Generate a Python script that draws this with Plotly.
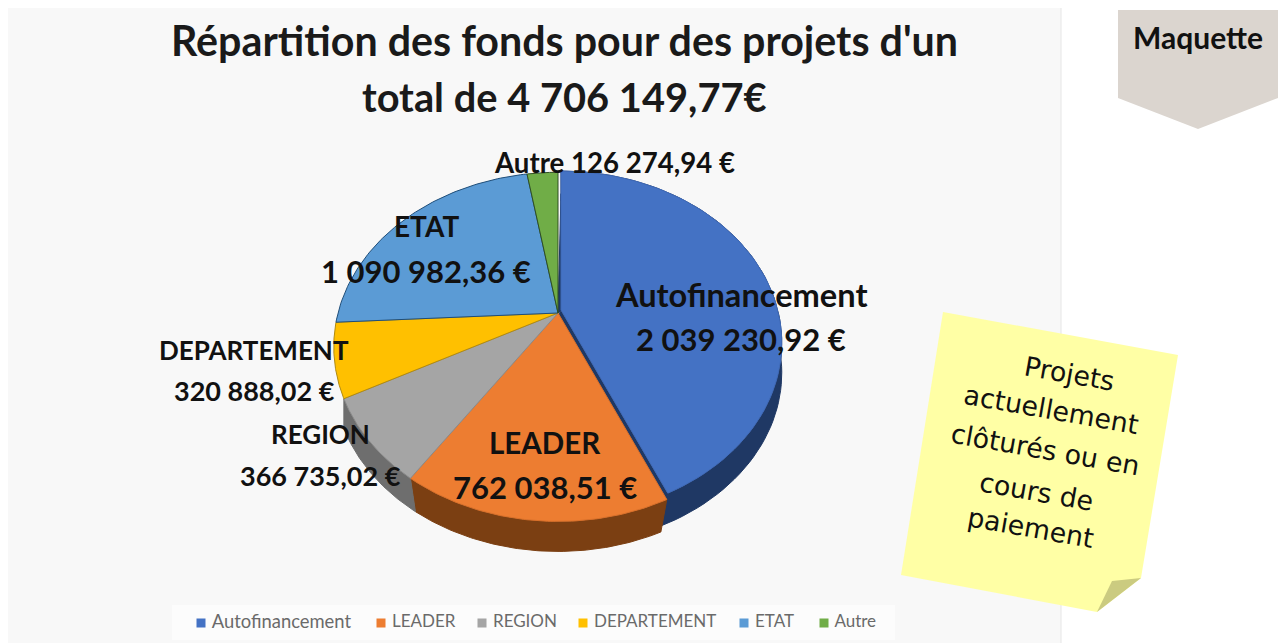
import math
import plotly.graph_objects as go

categories = ["Autofinancement", "LEADER", "REGION", "DEPARTEMENT", "ETAT", "Autre"]
values = [2039230.92, 762038.51, 366735.02, 320888.02, 1090982.36, 126274.94]
top_colors = ["#4472C4", "#ED7D31", "#A5A5A5", "#FFC000", "#5B9BD5", "#70AD47"]
wall_colors = ["#1F3864", "#7B3F12", "#6E6E6E", "#A67C00", "#2E6596", "#43682B"]
edge_colors = ["#3F6AB8", "#D9702A", "#8A8A8A", "#B08A10", "#1F4E79", "#2F4F22"]
# label x, name y, value y, name size, value size
label_pos = [(741, 294, 339, 32.6, 31), (545, 442, 487, 29.5, 31), (320, 434, 475, 26, 27),
             (254, 350, 390, 26, 27), (426, 226, 271, 28, 31)]
title_lines = ["Répartition des fonds pour des projets d'un", "total de 4 706 149,77€"]
title_sizes = [41.2, 39.8]
note_lines = ["Projets", "actuellement", "clôturés ou en", "cours de", "paiement"]
note_pos = [(1069, 373), (1051, 409), (1045, 449), (1036, 491), (1030, 527)]
legend_x = [201, 381, 482, 583, 744, 824]
legend_sizes = [18.4, 17, 17, 17, 17, 17]

CX, CY = 558, 313
F, G, K = 220, 168, 0.194
DEPTH = 30
OFFSET = {0: (3, -3)}
RADIUS = {0: 0.985}


def project(frac, i, depth=0, r=None):
    r = RADIUS.get(i, 1.0) if r is None else r
    th = 2 * math.pi * frac
    X, Y = r * math.sin(th), r * math.cos(th)
    d = 1 + K * Y
    dx, dy = OFFSET.get(i, (0, 0))
    return CX + dx + F * X / d, CY + dy - G * Y / d + depth


def fr(v):
    return f"{v:,.2f}".replace(",", " ").replace(".", ",") + " €"


def poly(pts, fill, line, **kw):
    return go.Scatter(x=[p[0] for p in pts], y=[p[1] for p in pts], mode="lines", fill="toself",
                      fillcolor=fill, line=dict(color=line, width=1), showlegend=False, **kw)


total = sum(values)
bounds = [0]
for v in values:
    bounds.append(bounds[-1] + v / total)

fig = go.Figure()

# radial sides of the offset slice
p0, p1 = project(0, 0, 0, 0), project(bounds[1], 0)
fig.add_trace(poly([p0, p1, (p1[0] - 8, p1[1] + 32), (p0[0] - 3, p0[1] + 6), p0],
                   wall_colors[0], wall_colors[0], hoverinfo="skip"))
fig.add_trace(poly([project(0, 5, 0, 0), project(0, 0, 0, 0.8), p0, project(0, 5, 0, 0)],
                   wall_colors[0], wall_colors[0], hoverinfo="skip"))

# side walls
LOW_SHIFT = {0: (0, 0.006), 1: (0.004, -0.004), 2: (-0.004, 0)}
for i, c in enumerate(categories):
    a, b = bounds[i], bounds[i + 1]
    if (a + b) / 2 > 0.7:
        continue
    n = 80
    sa, sb = LOW_SHIFT[i]
    low_a, low_b = a + sa, b + sb
    arc = [a + (b - a) * j / n for j in range(n + 1)]
    low = [low_a + (low_b - low_a) * j / n for j in range(n + 1)]
    pts = [project(t, i) for t in arc] + [project(t, i, DEPTH) for t in reversed(low)]
    pts.append(pts[0])
    fig.add_trace(poly(pts, wall_colors[i], wall_colors[i], hoverinfo="skip"))

# top faces
for i, c in enumerate(categories):
    a, b = bounds[i], bounds[i + 1]
    n = 80
    arc = [a + (b - a) * j / n for j in range(n + 1)]
    pts = [project(0, i, 0, 0)] + [project(t, i) for t in arc] + [project(0, i, 0, 0)]
    fig.add_trace(poly(pts, top_colors[i], edge_colors[i], name=c, text=fr(values[i]), hoverinfo="name+text"))

# legend row
for i, c in enumerate(categories):
    fig.add_trace(go.Scatter(x=[legend_x[i]], y=[623], mode="markers+text", text=[" " + c],
                             textposition="middle right",
                             marker=dict(symbol="square", size=9, color=top_colors[i]),
                             textfont=dict(size=legend_sizes[i], family="Lato", color="#6A6A6A"),
                             showlegend=False, hoverinfo="skip"))

FONT = "Lato"
shapes = [
    dict(type="rect", x0=8, x1=1061, y0=8, y1=643, fillcolor="#F8F8F8", line=dict(width=0), layer="below"),
    dict(type="line", x0=1061, x1=1061, y0=8, y1=643, line=dict(color="#E6E6E6", width=1), layer="below"),
    dict(type="rect", x0=172, x1=895, y0=605, y1=640, fillcolor="#FCFCFC", line=dict(width=0), layer="below"),
    dict(type="path", path="M1118,10 L1278,10 L1278,98 L1198,129 L1118,98 Z", fillcolor="#DBD5CF", line=dict(width=0), layer="below"),
    dict(type="path", path="M943,312 L1178,355 L1141,578 L1097,612 L901,575 Z", fillcolor="#FFFFA5", line=dict(width=0), layer="above"),
    dict(type="path", path="M1097,612 L1141,578 L1112,581 Z", fillcolor="#CBCB80", line=dict(width=0), layer="above"),
]

ann = []
for line, y, s in zip(title_lines, [40, 96], title_sizes):
    ann.append(dict(x=564, y=y, text=f"<b>{line}</b>", font=dict(size=s, family=FONT, color="#1a1a1a")))
for i, (x, y1, y2, s1, s2) in enumerate(label_pos):
    ann.append(dict(x=x, y=y1, text=f"<b>{categories[i]}</b>", font=dict(size=s1, family=FONT, color="#111")))
    ann.append(dict(x=x, y=y2, text=f"<b>{fr(values[i])}</b>", font=dict(size=s2, family=FONT, color="#111")))
ann.append(dict(x=614, y=162, text=f"<b>{categories[5]} {fr(values[5])}</b>", font=dict(size=27.6, family=FONT, color="#111")))
ann.append(dict(x=1198, y=37, text="<b>Maquette</b>", font=dict(size=30, family=FONT, color="#111")))
for line, (x, y) in zip(note_lines, note_pos):
    ann.append(dict(x=x, y=y, text=line, textangle=10, font=dict(size=26.8, family="DejaVu Sans", color="#111")))
for a in ann:
    a.update(xref="x", yref="y", showarrow=False, xanchor="center", yanchor="middle")

fig.update_layout(
    width=1282, height=643, margin=dict(l=0, r=0, t=0, b=0), showlegend=False,
    paper_bgcolor="white", plot_bgcolor="white", shapes=shapes, annotations=ann,
    xaxis=dict(range=[0, 1282], visible=False, fixedrange=True),
    yaxis=dict(range=[643, 0], visible=False, fixedrange=True),
)
fig.write_html("out.html", config={"displayModeBar": False},
               post_script="document.body.style.margin='0';document.documentElement.style.overflow='hidden';")
